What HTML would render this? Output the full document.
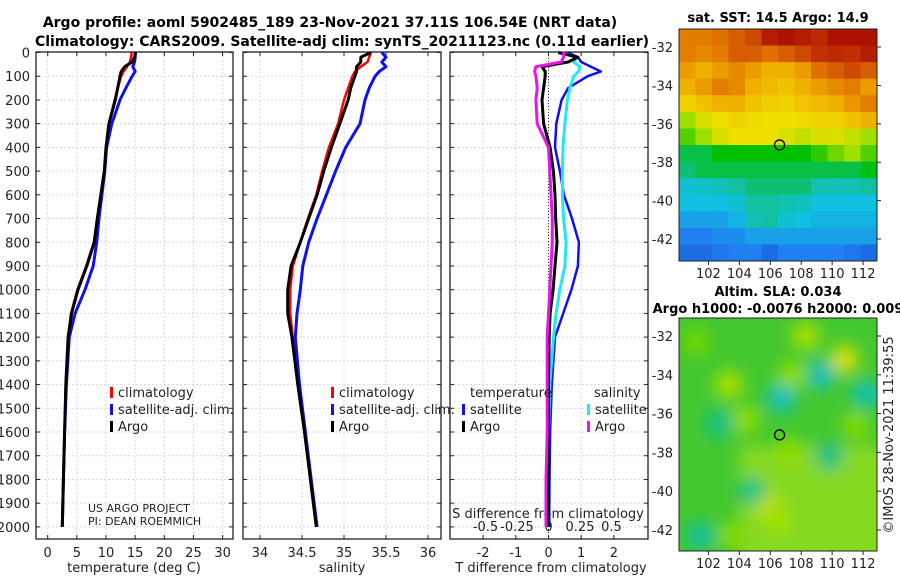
<!DOCTYPE html>
<html><head><meta charset="utf-8"><style>
body{margin:0;background:#fff;width:900px;height:580px;overflow:hidden;font-family:"Liberation Sans","DejaVu Sans",sans-serif}
svg text{font-family:"DejaVu Sans","Liberation Sans",sans-serif}
</style></head><body>
<svg id="c" width="900" height="580" xmlns="http://www.w3.org/2000/svg"></svg>
<script>
// ---- data ----
const depthTicks=[0,100,200,300,400,500,600,700,800,900,1000,1100,1200,1300,1400,1500,1600,1700,1800,1900,2000];
const tTicks=[0,5,10,15,20,25,30];
const sTicks=[34,34.5,35,35.5,36];
const sTickLabels=['34','34.5','35','35.5','36'];
const dTTicks=[-2,-1,0,1,2];
const dSTicks=[-0.5,-0.25,0,0.25,0.5];
const dSTickLabels=['-0.5','-0.25','0','0.25','0.5'];
const depths=[0,20,40,60,80,100,150,200,300,400,500,600,700,800,900,1000,1100,1200,1400,1600,1800,2000];
const tempClim=[14.4,14.3,14.1,13.6,13.0,12.6,12.0,11.5,10.5,10.0,9.7,9.1,8.5,7.9,6.6,5.1,4.0,3.5,3.1,2.9,2.7,2.5];
const tempSat =[15.0,15.0,14.9,14.6,15.0,14.5,13.4,12.4,11.0,10.1,9.8,9.3,8.8,8.4,7.8,6.4,4.7,3.7,3.2,2.9,2.7,2.5];
const tempArgo=[15.1,14.9,14.5,13.2,12.6,12.4,12.0,11.6,10.5,10.0,9.7,9.1,8.5,8.0,6.7,5.2,4.1,3.5,3.1,2.9,2.7,2.5];
const salClim=[35.32,35.3,35.28,35.2,35.13,35.1,35.05,35.0,34.93,34.82,34.74,34.67,34.57,34.48,34.39,34.36,34.36,34.39,34.45,34.53,34.6,34.67];
const salSat =[35.45,35.5,35.45,35.5,35.42,35.37,35.3,35.25,35.19,35.02,34.9,34.79,34.68,34.58,34.51,34.48,34.44,34.42,34.47,34.54,34.61,34.68];
const salArgo=[35.32,35.2,35.2,35.15,35.15,35.13,35.08,35.05,34.95,34.85,34.76,34.68,34.58,34.48,34.37,34.33,34.33,34.38,34.45,34.53,34.6,34.67];
const dTSat =[0.6,0.9,1.0,1.3,1.6,1.2,0.6,0.4,0.24,0.2,0.35,0.47,0.72,0.93,0.9,0.7,0.45,0.2,0.1,0.05,0.03,0.02];
const dTArgo=[0.3,0.9,0.6,-0.2,-0.1,-0.1,-0.15,-0.2,-0.15,0.05,0.15,0.2,0.22,0.26,0.2,0.14,0.05,0.02,0,0,0,0];
const dSSat =[0.1,0.22,0.2,0.25,0.24,0.2,0.17,0.15,0.13,0.115,0.11,0.11,0.12,0.14,0.13,0.09,0.06,0.04,0.01,0,-0.01,-0.01];
const dSArgo=[0.12,0.12,0.1,-0.1,-0.11,-0.1,-0.09,-0.1,-0.09,0,0.01,0.02,0.03,0.03,0.02,0.01,0,-0.01,-0.01,-0.01,-0.02,-0.02];
const sstGrid=[
[.8,.8,.82,.85,.88,.95,.97,.95,.93,.97,.97,.97],
[.8,.78,.8,.85,.85,.82,.85,.88,.92,.93,.92,.95],
[.75,.72,.75,.78,.75,.72,.72,.75,.82,.85,.88,.85],
[.72,.75,.8,.78,.72,.7,.68,.72,.75,.78,.8,.75],
[.65,.68,.72,.72,.68,.66,.65,.68,.7,.72,.76,.8],
[.55,.6,.62,.64,.63,.62,.62,.63,.65,.65,.68,.72],
[.5,.55,.6,.62,.62,.62,.6,.58,.6,.6,.58,.55],
[.42,.42,.45,.45,.45,.45,.45,.45,.48,.52,.55,.5],
[.4,.42,.42,.42,.42,.42,.42,.42,.42,.42,.42,.44],
[.32,.33,.35,.38,.4,.4,.4,.4,.36,.35,.36,.38],
[.3,.3,.3,.32,.38,.38,.36,.34,.3,.3,.3,.3],
[.25,.25,.25,.28,.35,.38,.32,.3,.28,.28,.28,.28],
[.2,.2,.22,.22,.25,.25,.25,.25,.25,.25,.25,.25],
[.15,.15,.18,.2,.2,.15,.2,.2,.2,.2,.18,.15]];
const slaLon=[101.5,103.3,104.4,105.8,106.7,107.4,108.3,109.3,110.8,112.2,102.7,104.8,109.8,101.2,106.5,111.5,107.2,103.5];
const slaLat=[-42.3,-34.5,-36.3,-40.7,-35.2,-34,-32,-34,-33.2,-35,-36.5,-40,-38.2,-32.3,-41.5,-36.6,-38,-42.3];
const slaVal=[0.38,0.56,0.54,0.58,0.33,0.54,0.56,0.34,0.6,0.35,0.39,0.39,0.39,0.52,0.55,0.53,0.54,0.53];
const lonTicks=[102,104,106,108,110,112];
const latTicks=[-32,-34,-36,-38,-40,-42];
const argoLon=106.6, argoLat=-37.1;

const S=document.getElementById('c');const NS='http://www.w3.org/2000/svg';
function el(t,a,p){const e=document.createElementNS(NS,t);for(const k in a)e.setAttribute(k,a[k]);(p||S).appendChild(e);return e;}
function txt(x,y,s,a,p){const e=el('text',Object.assign({x:x,y:y,'font-size':13,fill:'#222'},a||{}),p);e.textContent=s;return e;}
const yD=d=>52.5+d*0.2372;
const panels=[{x0:36,x1:233},{x0:243,x1:441},{x0:450,x1:648}];
const xT=v=>47.7+v*5.83, xS=v=>260+(v-34)*84, xDT=v=>548.5+v*32.7, xDS=v=>548.5+v*126;

panels.forEach((p,i)=>{
  const g=el('g',{});
  
  
  depthTicks.forEach(d=>{el('line',{x1:p.x0,x2:p.x1,y1:yD(d),y2:yD(d),stroke:'#d4d4f0','stroke-dasharray':'2,2'},g);
    el('line',{x1:p.x0,x2:p.x0+4,y1:yD(d),y2:yD(d),stroke:'#222'},g);el('line',{x1:p.x1,x2:p.x1-4,y1:yD(d),y2:yD(d),stroke:'#222'},g);});
  const xs=i==0?tTicks.map(xT):i==1?sTicks.map(xS):dTTicks.map(xDT);
  xs.forEach(x=>{el('line',{x1:x,x2:x,y1:52,y2:539,stroke:'#d4d4f0','stroke-dasharray':'2,2'},g);
    el('line',{x1:x,x2:x,y1:539,y2:535,stroke:'#222'},g);el('line',{x1:x,x2:x,y1:52,y2:56,stroke:'#222'},g);});
  el('rect',{x:p.x0,y:52,width:p.x1-p.x0,height:487,fill:'none',stroke:'#222','stroke-width':1.3},g);
});
depthTicks.forEach(d=>{const t=txt(30,yD(d)+5,String(d),{'text-anchor':'end'});});
tTicks.forEach(v=>txt(xT(v),557,String(v),{'text-anchor':'middle'}));
sTicks.forEach((v,i)=>txt(xS(v),557,sTickLabels[i],{'text-anchor':'middle'}));
dTTicks.forEach(v=>txt(xDT(v),557,String(v),{'text-anchor':'middle'}));
dSTicks.forEach((v,i)=>txt(xDS(v),531,dSTickLabels[i],{'text-anchor':'middle'}));
txt(134,572,'temperature (deg C)',{'text-anchor':'middle'});
txt(342,572,'salinity',{'text-anchor':'middle'});
txt(551,572,'T difference from climatology',{'text-anchor':'middle'});
txt(548,518,'S difference from climatology',{'text-anchor':'middle'});
el('line',{x1:xDT(0),x2:xDT(0),y1:52,y2:539,stroke:'#333','stroke-dasharray':'1,2'});

function line(xf,vals,col,w,name){
  const pts=vals.map((v,i)=>xf(v).toFixed(1)+','+yD(depths[i]).toFixed(1)).join(' ');
  const e=el('polyline',{points:pts,fill:'none',stroke:col,'stroke-width':w,'stroke-linejoin':'round'});
  
  
}
line(xT,tempClim,'#f00',2.5,'temp-climatology-line');
line(xT,tempSat,'#1010ee',3,'temp-satellite-line');
line(xT,tempArgo,'#000',3,'temp-argo-line');
line(xS,salClim,'#f00',2.5,'sal-climatology-line');
line(xS,salSat,'#1010ee',3,'sal-satellite-line');
line(xS,salArgo,'#000',3,'sal-argo-line');
line(xDT,dTSat,'#1010ee',2.5,'tdiff-satellite-line');
line(xDS,dSSat,'#22e8f0',3,'sdiff-satellite-line');
line(xDT,dTArgo,'#000',3,'tdiff-argo-line');
line(xDS,dSArgo,'#ee10ee',3,'sdiff-argo-line');

function leg(x,y,col,label){const g=el('g',{});
  el('rect',{x:x,y:y-10,width:3,height:11,fill:col},g);txt(x+8,y,label,{},g);}
leg(110,397,'#f00','climatology');leg(110,414,'#1010ee','satellite-adj. clim.');leg(110,431,'#000','Argo');
leg(331,397,'#f00','climatology');leg(331,414,'#1010ee','satellite-adj. clim.');leg(331,431,'#000','Argo');
txt(470,397,'temperature');txt(594,397,'salinity');
leg(462,414,'#1010ee','satellite');leg(462,431,'#000','Argo');
leg(587,414,'#22e8f0','satellite');leg(587,431,'#ee10ee','Argo');
txt(88,512,'US ARGO PROJECT',{'font-size':11});txt(88,525,'PI: DEAN ROEMMICH',{'font-size':11});
const t1=txt(330,27,'Argo profile: aoml 5902485_189 23-Nov-2021 37.11S 106.54E (NRT data)',{'text-anchor':'middle','font-weight':'bold','font-size':14,fill:'#000'});
txt(342,46,'Climatology: CARS2009. Satellite-adj clim: synTS_20211123.nc (0.11d earlier)',{'text-anchor':'middle','font-weight':'bold','font-size':14,fill:'#000'});

// ---- maps ----
const mapX0=679,mapX1=877,lonA=100.1,lonB=112.9;
const xL=l=>mapX0+(l-lonA)*(mapX1-mapX0)/(lonB-lonA);
const stops=[[0,[16,48,192]],[.2,[32,128,240]],[.3,[16,192,224]],[.38,[16,192,160]],[.45,[0,192,0]],[.55,[160,224,0]],[.62,[240,224,0]],[.72,[240,176,0]],[.82,[224,112,0]],[.92,[192,48,0]],[1,[160,0,0]]];
function cmap(v){for(let i=1;i<stops.length;i++){if(v<=stops[i][0]){const a=stops[i-1],b=stops[i],f=(v-a[0])/(b[0]-a[0]);return 'rgb('+a[1].map((c,k)=>Math.round(c+(b[1][k]-c)*f)).join(',')+')';}}return 'rgb(160,0,0)';}
function mapFrame(y0,y1,yL,name){
  const g=el('g',{});
  el('rect',{x:mapX0,y:y0,width:mapX1-mapX0,height:y1-y0,fill:'none',stroke:'#222'},g);
  lonTicks.forEach(l=>{el('line',{x1:xL(l),x2:xL(l),y1:y1,y2:y1+4,stroke:'#222'},g);txt(xL(l),y1+17,String(l),{'text-anchor':'middle'},g);});
  latTicks.forEach(l=>{el('line',{x1:mapX1,x2:mapX1+4,y1:yL(l),y2:yL(l),stroke:'#222'},g);txt(mapX0-6,yL(l)+5,String(l),{'text-anchor':'end'},g);});
  el('circle',{cx:xL(argoLon),cy:yL(argoLat),r:5,fill:'none',stroke:'#000','stroke-width':1.3},g);
}
const sy0=29,sy1=261,yL1=l=>47+(-32-l)*19.2;
const sg=el('g',{});
const nR=sstGrid.length,nC=sstGrid[0].length,cw=(mapX1-mapX0)/nC,ch=(sy1-sy0)/nR;
sstGrid.forEach((row,r)=>row.forEach((v,c)=>{const e=el('rect',{x:mapX0+c*cw,y:sy0+r*ch,width:cw+0.5,height:ch+0.5,fill:cmap(v)},sg);}));
mapFrame(sy0,sy1,yL1,'sst-map');
txt(778,22,'sat. SST: 14.5 Argo: 14.9',{'text-anchor':'middle','font-weight':'bold',fill:'#000'});
const by0=318,by1=551,yL2=l=>336+(-32-l)*19.4;
const defs=el('defs',{});const cp=el('clipPath',{id:'cp'},defs);el('rect',{x:mapX0,y:by0,width:mapX1-mapX0,height:by1-by0},cp);
const f=el('filter',{id:'bl',x:'-50%',y:'-50%',width:'200%',height:'200%'},defs);el('feGaussianBlur',{stdDeviation:8},f);
const bg=el('g',{'clip-path':'url(#cp)'});
el('rect',{x:mapX0,y:by0,width:mapX1-mapX0,height:by1-by0,fill:'#44c830'},bg);
const bb=el('g',{filter:'url(#bl)'},bg);
el('rect',{x:mapX0+60,y:445,width:150,height:120,fill:'#a0e020',opacity:.7},bb);
slaLon.forEach((l,i)=>{const e=el('circle',{cx:xL(l),cy:yL2(slaLat[i]),r:14,fill:cmap(slaVal[i])},bb);});
mapFrame(by0,by1,yL2,'sla-map');
txt(778,296,'Altim. SLA: 0.034',{'text-anchor':'middle','font-weight':'bold',fill:'#000'});
txt(778,313,'Argo h1000: -0.0076 h2000: 0.009',{'text-anchor':'middle','font-weight':'bold',fill:'#000'});
const cr=txt(0,0,'©IMOS 28-Nov-2021 11:39:55',{'text-anchor':'middle',transform:'translate(893,435) rotate(-90)'});
</script>
</body></html>
